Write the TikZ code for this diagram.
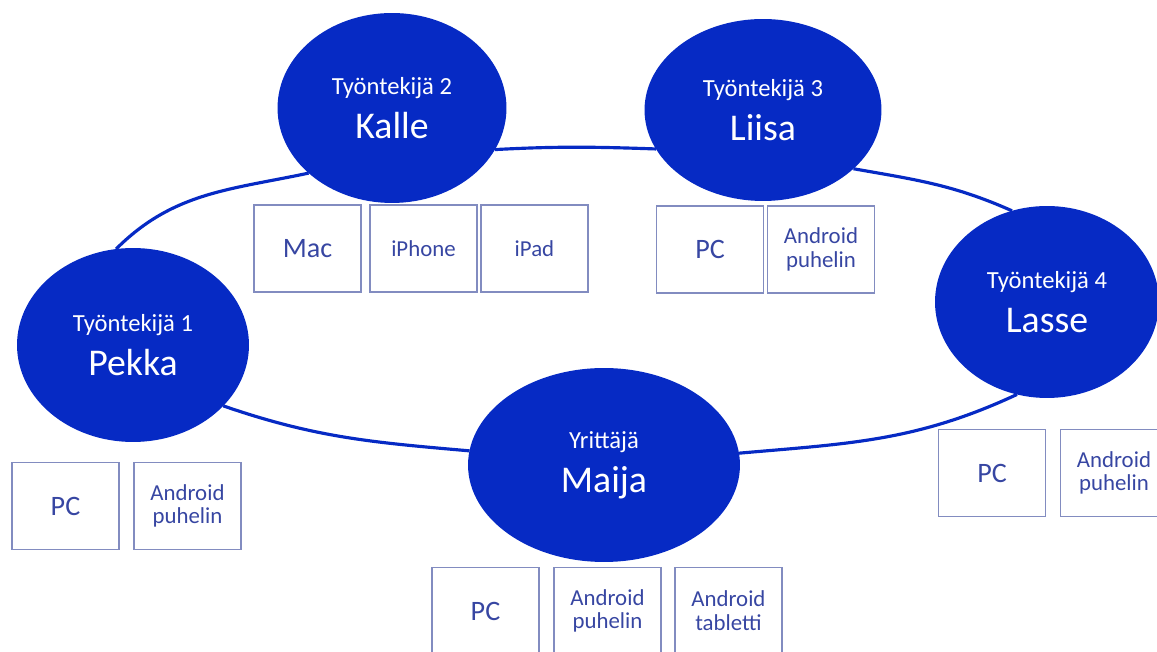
\documentclass[tikz,border=0pt]{standalone}
\usepackage{fontspec}
\setmainfont{Carlito}
\usetikzlibrary{shapes.geometric, positioning, backgrounds}

\definecolor{ringblue}{RGB}{6,42,196}
\definecolor{boxline}{RGB}{130,140,192}
\definecolor{boxtext}{RGB}{55,70,162}

\newcommand{\namefont}{\fontsize{21.5}{25}\selectfont}

\begin{document}
\begin{tikzpicture}[x=0.02cm, y=0.02cm,
    worker/.style = {ellipse, fill=ringblue, text=white, inner sep=0pt, outer sep=0pt, align=center, font=\fontsize{14}{25}\selectfont},
    device/.style = {rectangle, draw=boxline, line width=0.8pt, text=boxtext, inner sep=0pt, outer sep=0pt, minimum width=2.14cm, minimum height=1.74cm, align=center, font=\fontsize{13}{13.5}\selectfont},
    bigdev/.style = {device, font=\fontsize{16}{18}\selectfont},
    ring/.style = {draw=ringblue, line width=1.8pt}
]
\useasboundingbox (0,0) rectangle (1157,652);

% people
\node (pekka) [worker, minimum width=4.64cm, minimum height=3.88cm] at (133,307) {Työntekijä 1\\\namefont Pekka};
\node (kalle) [worker, minimum width=4.58cm, minimum height=3.80cm] at (392,544) {Työntekijä 2\\\namefont Kalle};
\node (liisa) [worker, minimum width=4.74cm, minimum height=3.64cm] at (763,542) {Työntekijä 3\\\namefont Liisa};
\node (lasse) [worker, minimum width=4.48cm, minimum height=3.84cm] at (1047,350) {Työntekijä 4\\\namefont Lasse};
\node (maija) [worker, minimum width=5.44cm, minimum height=3.88cm] at (604,187) {Yrittäjä\\\namefont Maija};

% devices
\node (pekka_pc) [bigdev] at (65.5,146) {PC};
\node (pekka_phone) [device, right=0.3cm of pekka_pc] {Android\\puhelin};

\node (kalle_mac) [bigdev] at (307.5,403.5) {Mac};
\node (kalle_iphone) [device, right=0.18cm of kalle_mac] {iPhone};
\node (kalle_ipad) [device, right=0.08cm of kalle_iphone] {iPad};

\node (liisa_pc) [bigdev] at (710,402.5) {PC};
\node (liisa_phone) [device, right=0.08cm of liisa_pc] {Android\\puhelin};

\node (lasse_pc) [bigdev] at (992,179) {PC};
\node (lasse_phone) [device, right=0.3cm of lasse_pc] {Android\\puhelin};

\node (maija_pc) [bigdev] at (485.5,41) {PC};
\node (maija_phone) [device, right=0.3cm of maija_pc] {Android\\puhelin};
\node (maija_tablet) [device, right=0.28cm of maija_phone] {Android\\tabletti};

% ring
\begin{scope}[on background layer]
\draw [ring] (pekka.100) to[out=45, in=192] (kalle.218);
\draw [ring] (kalle.-22) to[out=3, in=178] (liisa.200);
\draw [ring] (liisa.-33) to[out=-10, in=156] (lasse.111);
\draw [ring] (lasse.252) to[out=205, in=5] (maija.5);
\draw [ring] (maija.174) to[out=175, in=-19] (pekka.-34);
\end{scope}

\end{tikzpicture}
\end{document}
